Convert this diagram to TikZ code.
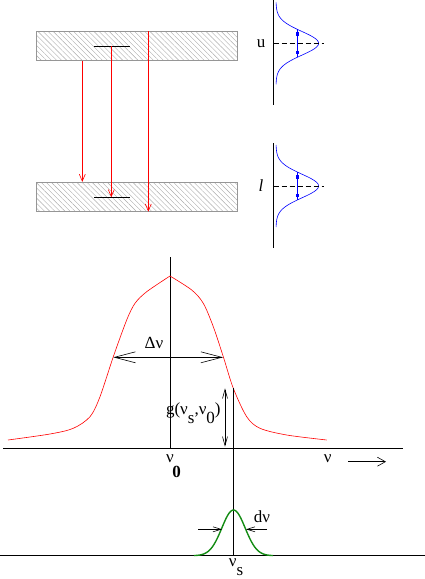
\documentclass[tikz,border=0pt]{standalone}
\usepackage{fontspec}
\setmainfont{Liberation Serif}
\usetikzlibrary{arrows.meta,patterns.meta}
\definecolor{bandgray}{RGB}{150,150,150}
\definecolor{linegreen}{RGB}{20,140,20}

\begin{document}
\begin{tikzpicture}[x=1pt, y=-1pt, line width=0.8pt, font=\fontsize{17}{19}\selectfont,
  bandbox/.style={draw=bandgray, line width=0.8pt, pattern={Lines[angle=-45,distance=3.6pt,line width=0.4pt]},
    pattern color=bandgray!80, minimum width=201.4pt, minimum height=29pt, inner sep=0pt},
  redarrow/.style={red, line width=0.6pt, -{Straight Barb[length=7pt,width=6pt]}},
  stick/.style={line width=0.6pt, {Straight Barb[length=9pt,width=5pt]}-{Straight Barb[length=9pt,width=5pt]}},
  profile/.style={blue, line width=0.6pt}]

\useasboundingbox (0,0) rectangle (425,579);

% Bands and sharp levels
\node[bandbox] (upper) at (137,45.8) {};
\node[bandbox] (lower) at (137,196.8) {};
\coordinate (ulev) at (111.3,46);
\coordinate (llev) at (111.3,197.3);
\draw (94,46) -- (129.7,46);
\draw (94,197.3) -- (129.7,197.3);

\draw[redarrow] ([xshift=-54.7pt]upper.south) -- ([xshift=-54.7pt]lower.north);
\draw[redarrow] (ulev) -- (llev);
\draw[redarrow] ([xshift=11.3pt]upper.north) -- ([xshift=11.3pt]lower.south);

% Level profiles
\foreach \yc/\lab in {43.3/u, 186/{\textit{l}}} {
  \draw (273.5,{\yc-43}) -- (273.5,{\yc+62});
  \draw[profile] plot[domain=-41:41, samples=80] ({276+42.6*exp(-\x*\x/282)}, {\yc+\x});
  \draw[dash pattern=on 5pt off 3pt] (273.5,\yc) -- (324,\yc);
  \draw[profile] (297.5,{\yc-14}) -- (297.5,{\yc+14});
  \fill[blue] (296,{\yc-11}) rectangle (299,{\yc-7.5});
  \fill[blue] (296,{\yc+7.5}) rectangle (299,{\yc+11});
  \node at (261,\yc) {\lab};
}

% Broad line
\draw (170,257.3) -- (170,448.7);
\draw (3,448.7) -- (403,448.7);
\draw[red, line width=0.6pt] plot[smooth] coordinates {(8,440) (50,434) (73.3,428.3) (90,416.7)
  (100,396.7) (113.3,356.7) (126.7,320) (135,303.3) (146.7,291.7) (170,276)};
\draw[red, line width=0.6pt] plot[smooth] coordinates {(170,276) (191.7,290) (203.3,303.3)
  (213.3,326.7) (223.3,356.7) (233.3,388.3) (246.7,416.7) (260,428.3) (286.7,435) (326.7,440)};

\coordinate (wl) at (113.3,357.3);
\coordinate (wr) at (223,357.3);
\draw[line width=0.6pt, {Straight Barb[length=21pt,width=11pt]}-{Straight Barb[length=21pt,width=11pt]}] (wl) -- (wr);
\node (dnu) at (154,343.3) {Δν};

\coordinate (gtop) at (225,388.3);
\coordinate (gbot) at (225,446.7);
\draw[stick] (gtop) -- (gbot);
\node[anchor=east, inner sep=1pt] (glab) at (222,413) {g(ν\raisebox{-9pt}{s},ν\raisebox{-9pt}{0})};

\node (nu0) at (170,459) {ν};
\node (nu0sub) at (176.7,472) {\textbf{0}};
\node (nuax) at (327.7,458.3) {ν};
\coordinate (ax1) at (348,461.7);
\coordinate (ax2) at (386,461.7);
\draw[line width=0.6pt, -{Straight Barb[length=8pt,width=9pt]}] (ax1) -- (ax2);

% Narrow line
\draw (233.5,388.3) -- (233.5,555.7);
\draw (0,555.7) -- (425,555.7);
\draw[linegreen, line width=1.4pt] plot[domain=194:273, samples=70] (\x, {555.7-45.7*exp(-(\x-233.5)*(\x-233.5)/272)});

\coordinate (nl1) at (198,529.3);
\coordinate (nl2) at (222,529.3);
\coordinate (nr1) at (267,529.3);
\coordinate (nr2) at (246,529.3);
\draw[line width=0.6pt, -{Straight Barb[length=8pt,width=5pt]}] (nl1) -- (nl2);
\draw[line width=0.6pt, -{Straight Barb[length=8pt,width=5pt]}] (nr1) -- (nr2);
\node (dnus) at (262,516.7) {dν};

\node[inner sep=1pt] (nus) at (236,567) {ν\raisebox{-9pt}{s}};

\end{tikzpicture}
\end{document}
